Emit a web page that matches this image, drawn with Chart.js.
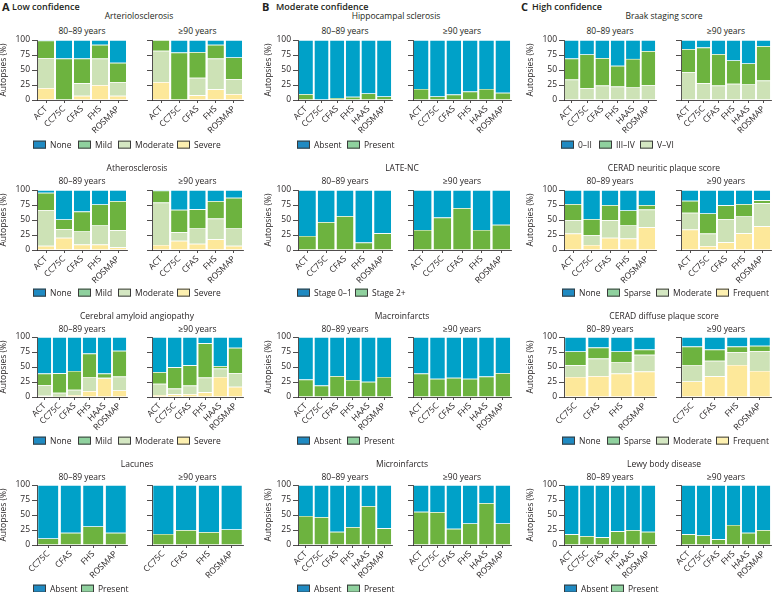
<!DOCTYPE html>
<html>
<head>
<meta charset="utf-8">
<script src="https://cdn.jsdelivr.net/npm/chart.js@4/dist/chart.umd.min.js"></script>
<style>
  body{margin:0;width:774px;height:592px;position:relative;overflow:hidden;background:#fff;
       font-family:"Open Sans",sans-serif;color:#231f20;}
  .t{position:absolute;white-space:nowrap;font-size:8.5px;line-height:1;}
  .c{transform:translate(-50%,-50%);}
  .m{transform:translateY(-50%);}
  .sw{display:inline-block;width:11px;height:6px;border:1px solid #3a3a3a;vertical-align:middle;margin-right:4px;position:relative;top:-1px;}
  canvas{position:absolute;}
</style>
</head>
<body>
<script>
/* ── cohorts (x categories) ── */
const COHORT5 = ['ACT','CC75C','CFAS','FHS','ROSMAP'];
const COHORT6 = ['ACT','CC75C','CFAS','FHS','HAAS','ROSMAP'];
const COHORT4 = ['CC75C','CFAS','FHS','ROSMAP'];
const Y_TICKS = [0,25,50,75,100];

/* ── A: low confidence ── */
const arterioSevere80   = [20, 0, 7, 25, 7];
const arterioModerate80 = [50, 0, 21, 44, 23];
const arterioMild80     = [29, 69, 41, 23, 32];
const arterioNone80     = [1, 31, 31, 8, 38];
const arterioSevere90   = [30, 0, 8, 18, 10];
const arterioModerate90 = [52, 0, 29, 51, 25];
const arterioMild90     = [18, 79, 43, 23, 36];
const arterioNone90     = [0, 21, 20, 8, 29];

const atheroSevere80   = [7, 20.5, 9, 9, 4.5];
const atheroModerate80 = [59.5, 14.5, 22, 32, 28.5];
const atheroMild80     = [29, 16, 33, 35, 48.5];
const atheroNone80     = [4.5, 49, 36, 24, 18.5];
const atheroSevere90   = [8.5, 15.5, 10.5, 18, 7];
const atheroModerate90 = [70.5, 14, 25.5, 34.5, 29];
const atheroMild90     = [20, 37.5, 32, 29, 51];
const atheroNone90     = [1, 33, 32, 18.5, 13];

const caaSevere80   = [2, 0.5, 3.5, 10, 31, 11];
const caaModerate80 = [18, 6.5, 8.5, 23.5, 1, 23];
const caaMild80     = [19, 32.5, 31.5, 39, 7, 43];
const caaNone80     = [61, 60.5, 56.5, 27.5, 61, 23];
const caaSevere90   = [3.5, 4.5, 5, 8, 33.5, 17];
const caaModerate90 = [18.5, 9.5, 14, 24.5, 14, 23];
const caaMild90     = [19.5, 35.5, 34, 57, 4, 42];
const caaNone90     = [58.5, 50.5, 47, 10.5, 48.5, 18];

const lacunesPresent80 = [11, 20.5, 31, 20.5];
const lacunesAbsent80  = [89, 79.5, 69, 79.5];
const lacunesPresent90 = [18.5, 25, 21.5, 26];
const lacunesAbsent90  = [81.5, 75, 78.5, 74];

/* ── B: moderate confidence ── */
const hippoPresent80 = [10, 1, 3.5, 5.5, 11, 6];
const hippoAbsent80  = [90, 99, 96.5, 94.5, 89, 94];
const hippoPresent90 = [18.5, 6, 9, 14, 18.5, 12];
const hippoAbsent90  = [81.5, 94, 91, 86, 81.5, 88];

const lateStage2_80 = [23.5, 46.5, 56.5, 12.5, 28];
const lateStage0_80 = [76.5, 53.5, 43.5, 87.5, 72];
const lateStage2_90 = [33.5, 54, 70, 33.5, 42];
const lateStage0_90 = [66.5, 46, 30, 66.5, 58];

const macroPresent80 = [29, 19, 35, 28.5, 25.5, 33.5];
const macroAbsent80  = [71, 81, 65, 71.5, 74.5, 66.5];
const macroPresent90 = [39, 30.5, 32, 30.5, 34, 40];
const macroAbsent90  = [61, 69.5, 68, 69.5, 66, 60];

const microPresent80 = [48.5, 46.5, 22, 30, 65, 28];
const microAbsent80  = [51.5, 53.5, 78, 70, 35, 72];
const microPresent90 = [55.5, 55, 27, 36, 70, 36];
const microAbsent90  = [44.5, 45, 73, 64, 30, 64];

/* ── C: high confidence ── */
const braakVVI80   = [34, 20, 24, 22.5, 21, 25];
const braakIIIIV80 = [35, 56, 46, 34.5, 47.5, 56.5];
const braak0II80   = [31, 24, 30, 43, 31.5, 18.5];
const braakVVI90   = [46.5, 28, 24, 27, 26, 32.5];
const braakIIIIV90 = [38.5, 59.5, 52.5, 39, 35, 57.5];
const braak0II90   = [15, 12.5, 23.5, 34, 39, 10];

const neuriticFrequent80 = [27.5, 8.5, 20.5, 19, 38];
const neuriticModerate80 = [22.5, 16.5, 29, 22, 29.5];
const neuriticSparse80   = [26.5, 26.5, 25.5, 25, 7.5];
const neuriticNone80     = [23.5, 48.5, 25, 34, 25];
const neuriticFrequent90 = [34, 6.5, 13, 28, 39.5];
const neuriticModerate90 = [28, 21, 38.5, 28, 38.5];
const neuriticSparse90   = [20, 33.5, 23, 20.5, 5];
const neuriticNone90     = [18, 39, 25.5, 23.5, 17];

const diffuseFrequent80 = [33.5, 35, 39, 42.5];
const diffuseModerate80 = [19.5, 29, 19.5, 28];
const diffuseSparse80   = [23, 18.5, 17.5, 8.5];
const diffuseNone80     = [24, 17.5, 24, 21];
const diffuseFrequent90 = [26, 34.5, 53.5, 43.5];
const diffuseModerate90 = [27.5, 26, 21.5, 33];
const diffuseSparse90   = [30.5, 18.5, 9, 9];
const diffuseNone90     = [16, 21, 16, 14.5];

const lewyPresent80 = [18, 15, 13, 23, 25, 22];
const lewyAbsent80  = [82, 85, 87, 77, 75, 78];
const lewyPresent90 = [18, 16, 9.5, 33.5, 20.5, 25];
const lewyAbsent90  = [82, 84, 90.5, 66.5, 79.5, 75];

/* ── 색 ── */
const INK = '#231f20';
const BLUE = '#00a1c8', GREEN = '#6db33f', PALE = '#cde2b6', YELLOW = '#fde89a';
const SW_BLUE = '#1f8ac2', SW_GREEN = '#8fd19e', SW_PALE = '#d4e7c2', SW_YELLOW = '#fdf0b0';

Chart.defaults.font.family = '"Open Sans", sans-serif';
Chart.defaults.font.size = 8.5;
Chart.defaults.color = INK;

/* ── 배치 ── */
const COLS = {
  A: { l:[37,127],  r:[152,243], yt:3   },
  B: { l:[298,392], r:[413,511], yt:268 },
  C: { l:[564,656], r:[681,771], yt:530 }
};
const ROWS = [
  { top:40,  title:16,  sub:31,  leg:145 },
  { top:190, title:168, sub:181, leg:293 },
  { top:337, title:316, sub:329, leg:441 },
  { top:485, title:464, sub:477, leg:589 }
];
const PH = 60;

function txt(s, x, y, cls, css){
  const d = document.createElement('div');
  d.className = 't ' + (cls || '');
  d.textContent = s;
  d.style.left = x + 'px';
  d.style.top = y + 'px';
  Object.assign(d.style, css || {});
  document.body.appendChild(d);
  return d;
}

function legend(y, items){
  items.forEach(([label, col, x])=>{
    const d = txt('', x, y, 'm');
    const s = document.createElement('span');
    s.className = 'sw';
    s.style.background = col;
    d.appendChild(s);
    d.appendChild(document.createTextNode(label));
  });
}

function bars(x0, x1, top, cats, series, ytx){
  const yw = ytx != null ? Math.round(x0 - (ytx - 5)) : 14;
  const pad = 8, xh = 44;
  const w = (x1 - x0) + yw + 2, h = pad + PH + xh;
  const cv = document.createElement('canvas');
  cv.width = w; cv.height = h;
  cv.style.left = (x0 - yw) + 'px';
  cv.style.top = (top - pad) + 'px';
  document.body.appendChild(cv);

  new Chart(cv, {
    type: 'bar',
    data: {
      labels: cats,
      datasets: series.map(([data, color])=>({
        data, backgroundColor: color,
        barPercentage: 0.9, categoryPercentage: 1,
        borderWidth: { top: 0.7, left: 0, right: 0, bottom: 0 },
        borderColor: 'rgba(255,255,255,0.45)',
        borderSkipped: 'start'
      }))
    },
    options: {
      responsive: false,
      animation: false,
      layout: { padding: { top: pad, right: 2, left: 0, bottom: 0 } },
      plugins: { legend: { display: false }, tooltip: { enabled: false } },
      scales: {
        x: {
          stacked: true,
          grid: { display: true, drawOnChartArea: false, offset: false, tickLength: 3, color: INK, lineWidth: 0.8 },
          border: { display: true, color: INK, width: 0.8 },
          ticks: { autoSkip: false, minRotation: 45, maxRotation: 45, padding: 1, color: INK },
          afterFit(s){ s.height = xh; s.paddingLeft = 0; s.paddingRight = 0; }
        },
        y: {
          stacked: true, min: 0, max: 100,
          afterBuildTicks(s){ s.ticks = Y_TICKS.map(v=>({ value: v })); },
          grid: { display: true, drawOnChartArea: false, tickLength: 5, color: INK, lineWidth: 0.8 },
          border: { display: true, color: INK, width: 0.8 },
          ticks: { display: ytx != null, padding: 2, color: INK },
          title: { display: ytx != null, text: 'Autopsies (%)', padding: 0, color: INK },
          afterFit(s){ s.width = yw; s.paddingTop = 0; s.paddingBottom = 0; }
        }
      }
    }
  });
}

function panel(col, row, title, titleX, cats, s80, s90, leg){
  const c = COLS[col], r = ROWS[row];
  txt(title, titleX, r.title, 'c');
  txt('80–89 years', (c.l[0]+c.l[1])/2, r.sub, 'c');
  txt('≥90 years', (c.r[0]+c.r[1])/2, r.sub, 'c');
  bars(c.l[0], c.l[1], r.top, cats, s80, c.yt);
  bars(c.r[0], c.r[1], r.top, cats, s90, null);
  legend(r.leg, leg);
}

/* ── 패널 라벨 ── */
[['A','Low confidence',2,12],['B','Moderate confidence',262,276],['C','High confidence',521,532]]
  .forEach(([k, s, x1, x2])=>{
    txt(k, x1, 6, 'm', { fontWeight: 700, fontSize: '11px' });
    txt(s, x2, 6, 'm', { fontWeight: 600, fontSize: '9px' });
  });

const LEG_SEV_A  = [['None',SW_BLUE,33],['Mild',SW_GREEN,78],['Moderate',SW_PALE,118],['Severe',SW_YELLOW,177]];
const LEG_AP_A   = [['Absent',SW_BLUE,33],['Present',SW_GREEN,81]];
const LEG_AP_B   = [['Absent',SW_BLUE,297],['Present',SW_GREEN,347]];
const LEG_LATE   = [['Stage 0–1',SW_BLUE,297],['Stage 2+',SW_GREEN,355]];
const LEG_BRAAK  = [['0–II',SW_BLUE,561],['III–IV',SW_GREEN,599],['V–VI',SW_PALE,640]];
const LEG_CERAD  = [['None',SW_BLUE,562],['Sparse',SW_GREEN,607],['Moderate',SW_PALE,656],['Frequent',SW_YELLOW,716]];
const LEG_AP_C   = [['Absent',SW_BLUE,564],['Present',SW_GREEN,611]];

/* ── A ── */
panel('A', 0, 'Arteriolosclerosis', 139, COHORT5,
  [[arterioSevere80,YELLOW],[arterioModerate80,PALE],[arterioMild80,GREEN],[arterioNone80,BLUE]],
  [[arterioSevere90,YELLOW],[arterioModerate90,PALE],[arterioMild90,GREEN],[arterioNone90,BLUE]], LEG_SEV_A);
panel('A', 1, 'Atherosclerosis', 137, COHORT5,
  [[atheroSevere80,YELLOW],[atheroModerate80,PALE],[atheroMild80,GREEN],[atheroNone80,BLUE]],
  [[atheroSevere90,YELLOW],[atheroModerate90,PALE],[atheroMild90,GREEN],[atheroNone90,BLUE]], LEG_SEV_A);
panel('A', 2, 'Cerebral amyloid angiopathy', 137, COHORT6,
  [[caaSevere80,YELLOW],[caaModerate80,PALE],[caaMild80,GREEN],[caaNone80,BLUE]],
  [[caaSevere90,YELLOW],[caaModerate90,PALE],[caaMild90,GREEN],[caaNone90,BLUE]], LEG_SEV_A);
panel('A', 3, 'Lacunes', 137, COHORT4,
  [[lacunesPresent80,GREEN],[lacunesAbsent80,BLUE]],
  [[lacunesPresent90,GREEN],[lacunesAbsent90,BLUE]], LEG_AP_A);

/* ── B ── */
panel('B', 0, 'Hippocampal sclerosis', 396, COHORT6,
  [[hippoPresent80,GREEN],[hippoAbsent80,BLUE]],
  [[hippoPresent90,GREEN],[hippoAbsent90,BLUE]], LEG_AP_B);
panel('B', 1, 'LATE-NC', 402, COHORT5,
  [[lateStage2_80,GREEN],[lateStage0_80,BLUE]],
  [[lateStage2_90,GREEN],[lateStage0_90,BLUE]], LEG_LATE);
panel('B', 2, 'Macroinfarcts', 402, COHORT6,
  [[macroPresent80,GREEN],[macroAbsent80,BLUE]],
  [[macroPresent90,GREEN],[macroAbsent90,BLUE]], LEG_AP_B);
panel('B', 3, 'Microinfarcts', 402, COHORT6,
  [[microPresent80,GREEN],[microAbsent80,BLUE]],
  [[microPresent90,GREEN],[microAbsent90,BLUE]], LEG_AP_B);

/* ── C ── */
panel('C', 0, 'Braak staging score', 664, COHORT6,
  [[braakVVI80,PALE],[braakIIIIV80,GREEN],[braak0II80,BLUE]],
  [[braakVVI90,PALE],[braakIIIIV90,GREEN],[braak0II90,BLUE]], LEG_BRAAK);
panel('C', 1, 'CERAD neuritic plaque score', 664, COHORT5,
  [[neuriticFrequent80,YELLOW],[neuriticModerate80,PALE],[neuriticSparse80,GREEN],[neuriticNone80,BLUE]],
  [[neuriticFrequent90,YELLOW],[neuriticModerate90,PALE],[neuriticSparse90,GREEN],[neuriticNone90,BLUE]], LEG_CERAD);
panel('C', 2, 'CERAD diffuse plaque score', 664, COHORT4,
  [[diffuseFrequent80,YELLOW],[diffuseModerate80,PALE],[diffuseSparse80,GREEN],[diffuseNone80,BLUE]],
  [[diffuseFrequent90,YELLOW],[diffuseModerate90,PALE],[diffuseSparse90,GREEN],[diffuseNone90,BLUE]], LEG_CERAD);
panel('C', 3, 'Lewy body disease', 664, COHORT6,
  [[lewyPresent80,GREEN],[lewyAbsent80,BLUE]],
  [[lewyPresent90,GREEN],[lewyAbsent90,BLUE]], LEG_AP_C);
</script>
</body>
</html>
